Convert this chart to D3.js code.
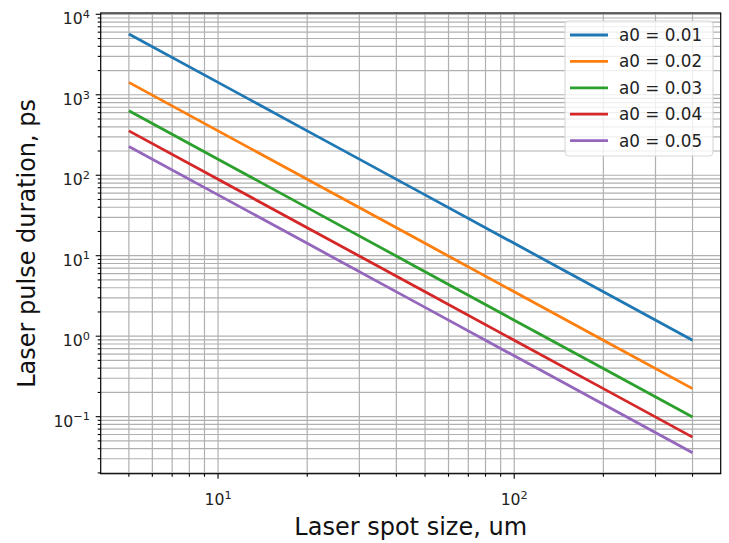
<!DOCTYPE html>
<html>
<head>
<meta charset="utf-8">
<script src="https://cdn.jsdelivr.net/npm/d3@7"></script>
<style>
  html, body { margin: 0; padding: 0; background: #fff; }
  svg { display: block; font-family: "DejaVu Sans", sans-serif; }
</style>
</head>
<body>
<svg id="chart" width="729" height="543"></svg>
<script>
// ---- data ----
const spotSizes = [5, 10, 20, 50, 100, 200, 400];            // um
const seriesLabels = ["a0 = 0.01", "a0 = 0.02", "a0 = 0.03", "a0 = 0.04", "a0 = 0.05"];
const a001 = [5700, 1425, 356, 57, 14.25, 3.56, 0.89];
const a002 = [1425, 356, 89, 14.25, 3.56, 0.89, 0.223];
const a003 = [633, 158, 39.6, 6.33, 1.58, 0.396, 0.099];
const a004 = [356, 89, 22.3, 3.56, 0.89, 0.223, 0.0557];
const a005 = [228, 57, 14.25, 2.28, 0.57, 0.1425, 0.0356];
const seriesValues = [a001, a002, a003, a004, a005];
const colors = ["#1f77b4", "#ff7f0e", "#2ca02c", "#d62728", "#9467bd"];
const xMajorTicks = [10, 100];
const yMajorTicks = [0.1, 1, 10, 100, 1000, 10000];
const xLabel = "Laser spot size, um";
const yLabel = "Laser pulse duration, ps";

// ---- layout ----
const L = 100.7, R = 720.7, T = 13, B = 473.7;
const svg = d3.select("#chart");

function logDomain(vals) {
  const lo = Math.log10(d3.min(vals)), hi = Math.log10(d3.max(vals));
  const m = (hi - lo) * 0.05;
  return [Math.pow(10, lo - m), Math.pow(10, hi + m)];
}
const allY = seriesValues.flat();
const x = d3.scaleLog().domain(logDomain(spotSizes)).range([L, R]);
const y = d3.scaleLog().domain(logDomain(allY)).range([B, T]);

function minorTicks(scale) {
  const [d0, d1] = scale.domain();
  const out = [];
  for (let k = Math.floor(Math.log10(d0)) - 1; k <= Math.ceil(Math.log10(d1)); k++) {
    for (let m = 1; m <= 9; m++) {
      const v = m * Math.pow(10, k);
      if (v >= d0 && v <= d1) out.push({v, major: m === 1});
    }
  }
  return out;
}
const xt = minorTicks(x), yt = minorTicks(y);

const gridColor = "#b0b0b0";
const grid = svg.append("g");
grid.selectAll(".gx").data(xt).enter().append("line")
  .attr("x1", d => x(d.v)).attr("x2", d => x(d.v)).attr("y1", T).attr("y2", B)
  .attr("stroke", gridColor).attr("stroke-width", 1.2);
grid.selectAll(".gy").data(yt).enter().append("line")
  .attr("y1", d => y(d.v)).attr("y2", d => y(d.v)).attr("x1", L).attr("x2", R)
  .attr("stroke", gridColor).attr("stroke-width", 1.2);

// series
const line = d3.line().x((d, i) => x(spotSizes[i])).y(d => y(d));
seriesValues.forEach((vals, i) => {
  svg.append("path").datum(vals).attr("d", line)
    .attr("fill", "none").attr("stroke", colors[i]).attr("stroke-width", 2.8)
    .attr("stroke-linecap", "butt");
});

// spines
svg.append("rect").attr("x", L).attr("y", T).attr("width", R - L).attr("height", B - T)
  .attr("fill", "none").attr("stroke", "#000").attr("stroke-width", 1.2);

// ticks
const tk = svg.append("g").attr("stroke", "#000").attr("stroke-width", 1.1);
xt.forEach(d => tk.append("line").attr("x1", x(d.v)).attr("x2", x(d.v))
  .attr("y1", B).attr("y2", B + (d.major ? 5 : 3)));
yt.forEach(d => tk.append("line").attr("y1", y(d.v)).attr("y2", y(d.v))
  .attr("x1", L).attr("x2", L - (d.major ? 5 : 3)));

function expLabel(sel, v) {
  const e = Math.round(Math.log10(v));
  sel.append("tspan").text("10");
  sel.append("tspan").attr("dy", "-0.55em").attr("font-size", "0.72em")
    .text(e < 0 ? "\u2212" + Math.abs(e) : String(e));
}
xMajorTicks.forEach(v => {
  const t = svg.append("text").attr("x", x(v)).attr("y", 505)
    .attr("text-anchor", "middle").attr("font-size", 15.7).attr("fill", "#222");
  expLabel(t, v);
});
yMajorTicks.forEach(v => {
  const t = svg.append("text").attr("x", 90).attr("y", y(v) + 10)
    .attr("text-anchor", "end").attr("font-size", 15.7).attr("fill", "#222");
  expLabel(t, v);
});

// axis labels
svg.append("text").attr("x", (L + R) / 2).attr("y", 535).attr("text-anchor", "middle")
  .attr("font-size", 24).attr("fill", "#111").text(xLabel);
svg.append("text").attr("transform", `translate(35,${(T + B) / 2}) rotate(-90)`)
  .attr("text-anchor", "middle").attr("font-size", 24).attr("fill", "#111").text(yLabel);

// legend
const lg = svg.append("g");
lg.append("rect").attr("x", 565).attr("y", 21).attr("width", 148).attr("height", 135)
  .attr("rx", 4).attr("fill", "#fff").attr("fill-opacity", 0.8)
  .attr("stroke", "#d8d8d8").attr("stroke-width", 1.1);
seriesLabels.forEach((lab, i) => {
  const cy = 35 + i * 26.4;
  lg.append("line").attr("x1", 570).attr("x2", 608).attr("y1", cy).attr("y2", cy)
    .attr("stroke", colors[i]).attr("stroke-width", 2.8);
  lg.append("text").attr("x", 619).attr("y", cy + 6).attr("font-size", 16.8)
    .attr("fill", "#222").text(lab);
});
</script>
</body>
</html>
